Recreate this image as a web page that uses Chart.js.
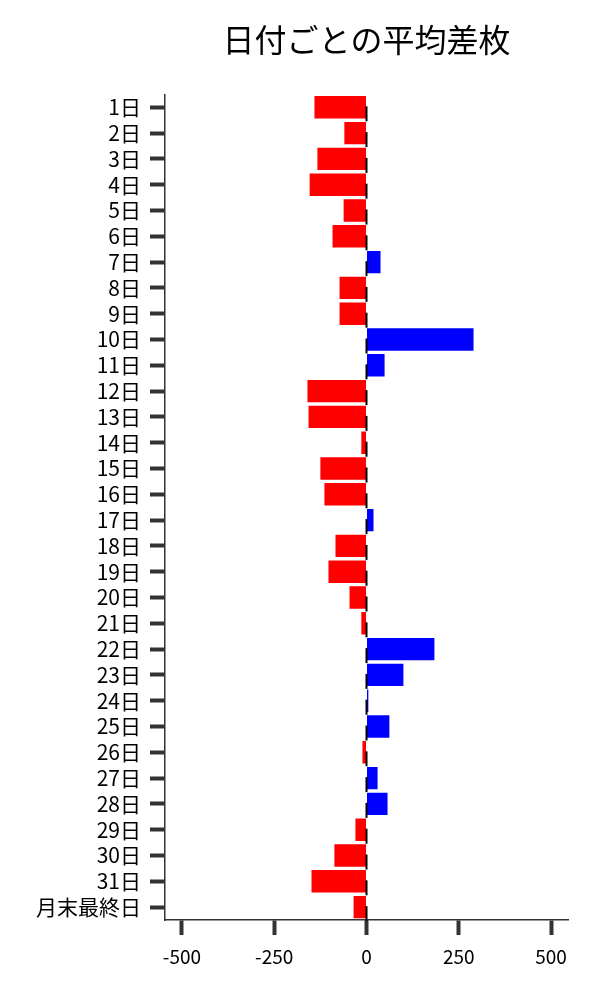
<!DOCTYPE html>
<html>
<head>
<meta charset="utf-8">
<script src="https://cdn.jsdelivr.net/npm/chart.js@4/dist/chart.umd.min.js"></script>
<style>
  html, body { margin: 0; padding: 0; background: #fff; }
  #wrap { width: 600px; height: 1000px; }
</style>
</head>
<body>
<div id="wrap"><canvas id="grafico"></canvas></div>
<script>
const dias = ['1日','2日','3日','4日','5日','6日','7日','8日','9日','10日',
  '11日','12日','13日','14日','15日','16日','17日','18日','19日','20日',
  '21日','22日','23日','24日','25日','26日','27日','28日','29日','30日',
  '31日','月末最終日'];
const sasu = [-141, -60, -133, -154, -62, -92, 38, -73, -73, 290,
  49, -160, -157, -14, -125, -114, 19, -84, -103, -46,
  -14, 184, 100, 5, 62, -11, 30, 57, -30, -87,
  -149, -35];
const xTicks = [-500, -250, 0, 250, 500];

const fonte = '"Noto Sans CJK JP", "Noto Sans", sans-serif';
const cores = sasu.map(v => v >= 0 ? '#0000ff' : '#ff0000');

// short black marks on the zero line, one per row
const zeroMarks = {
  id: 'zeroMarks',
  afterDatasetsDraw(chart) {
    const ctx = chart.ctx;
    const x0 = chart.scales.x.getPixelForValue(0);
    const y = chart.scales.y;
    ctx.save();
    ctx.strokeStyle = '#000';
    ctx.lineWidth = 2;
    dias.forEach((d, i) => {
      const yc = y.getPixelForValue(i);
      ctx.beginPath();
      ctx.moveTo(x0, yc - 1);
      ctx.lineTo(x0, yc + 14);
      ctx.stroke();
    });
    ctx.restore();
  }
};

new Chart(document.getElementById('grafico'), {
  type: 'bar',
  data: {
    labels: dias,
    datasets: [{
      data: sasu,
      backgroundColor: cores,
      borderWidth: 0,
      barPercentage: 0.87,
      categoryPercentage: 1
    }]
  },
  options: {
    indexAxis: 'y',
    responsive: true,
    maintainAspectRatio: false,
    animation: false,
    layout: { padding: { left: 0, right: 32, top: 0, bottom: 0 } },
    plugins: {
      legend: { display: false },
      tooltip: { enabled: false },
      title: {
        display: true,
        text: '日付ごとの平均差枚',
        fullSize: false,
        color: '#000',
        font: { family: fonte, size: 32, weight: 'normal' },
        padding: { top: 21, bottom: 35 }
      }
    },
    scales: {
      x: {
        min: -546,
        max: 546,
        afterBuildTicks: s => { s.ticks = xTicks.map(v => ({ value: v })); },
        afterFit: s => { s.height = 80; },
        border: { display: true, color: '#333', width: 1.5 },
        grid: {
          drawOnChartArea: false,
          drawTicks: true,
          tickLength: 15,
          tickWidth: 4,
          tickColor: '#333'
        },
        ticks: {
          color: '#000',
          padding: 10,
          maxRotation: 0,
          font: { family: fonte, size: 19 }
        }
      },
      y: {
        offset: true,
        afterFit: s => { s.width = 165; },
        border: { display: true, color: '#333', width: 1.5 },
        grid: {
          offset: false,
          drawOnChartArea: false,
          drawTicks: true,
          tickLength: 15,
          tickWidth: 4,
          tickColor: '#333'
        },
        ticks: {
          color: '#000',
          padding: 9,
          autoSkip: false,
          font: { family: fonte, size: 21 }
        }
      }
    }
  },
  plugins: [zeroMarks]
});
</script>
</body>
</html>
